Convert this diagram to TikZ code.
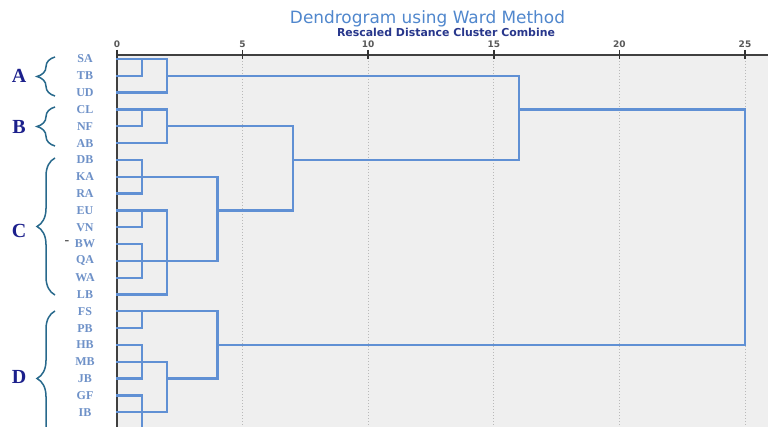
\documentclass[tikz,border=0pt]{standalone}
\usepackage{graphicx}
\usepackage{fontspec}
\setmainfont{Liberation Serif}
\setsansfont{Liberation Sans}
\newfontfamily\dejavu{DejaVu Sans}
\usetikzlibrary{decorations.pathreplacing}
\definecolor{dendro}{RGB}{96,144,212}
\definecolor{plotbg}{RGB}{239,239,239}
\definecolor{leafblue}{RGB}{110,145,200}
\definecolor{titleblue}{RGB}{80,135,205}
\definecolor{subnavy}{RGB}{40,55,140}
\definecolor{grpnavy}{RGB}{28,32,140}
\definecolor{braceteal}{RGB}{40,105,140}
\tikzset{
  dline/.style={draw=dendro, line width=2.3pt, line cap=rect},
  gridline/.style={draw=gray!55, dotted, line width=1pt},
  axisline/.style={draw=black!75, line width=1.2pt},
  tickmark/.style={draw=black!80, line width=1.5pt},
  ticklabel/.style={font=\dejavu\fontsize{9}{10}\selectfont\bfseries, text=black!65, inner sep=0pt},
  leaf/.style={font=\fontsize{12}{13}\selectfont\bfseries, text=leafblue, inner sep=0pt},
  grp/.style={font=\fontsize{20}{22}\selectfont\bfseries, text=grpnavy, inner sep=0pt},
  bracestyle/.style={draw=braceteal, line width=1.5pt, decorate,
    decoration={brace, amplitude=18pt, aspect=0.5}},
}
\begin{document}
\begin{tikzpicture}[x=1pt,y=-1pt]
\useasboundingbox (0,0) rectangle (768,427);
\clip (0,0) rectangle (768,427);
\fill[white] (0,0) rectangle (768,427);
\fill[plotbg] (117,55) rectangle (768,427);
% titles
\node[text=titleblue, inner sep=0pt] (title) at (427.5,19)
  {\resizebox{275pt}{!}{\dejavu Dendrogram using Ward Method}};
\node[text=subnavy, inner sep=0pt] (subtitle) at (446,32)
  {\resizebox{218pt}{!}{\dejavu\bfseries Rescaled Distance Cluster Combine}};
% grid
\foreach \v in {5,10,15,20,25}
  \draw[gridline] ({117+25.12*\v},58) -- ({117+25.12*\v},427);
% axes
\draw[axisline] (117,55) -- (768,55);
\draw[axisline] (117,50) -- (117,427);
\foreach \v in {0,5,10,15,20,25} {
  \draw[tickmark] ({117+25.12*\v},50) -- ({117+25.12*\v},59);
  \node[ticklabel] (t\v) at ({117+25.12*\v},44) {\v};
}
% leaf labels
\foreach \n [count=\i from 0] in {SA,TB,UD,CL,NF,AB,DB,KA,RA,EU,VN,BW,QA,WA,LB,FS,PB,HB,MB,JB,GF,IB}
  \node[leaf] (\n) at (85,{59+16.82*\i}) {\n};
\node[font=\fontsize{14}{14}\selectfont\bfseries, text=black!70, inner sep=0pt] (dash) at (67,243) {-};
% group braces and letters
\draw[bracestyle] (55,96) -- (55,57);
\draw[bracestyle] (55,146) -- (55,107);
\draw[bracestyle] (55,295) -- (55,158);
\draw[bracestyle] (55,446) -- (55,311);
\node[grp] (gA) at (19,76) {A};
\node[grp] (gB) at (19,127) {B};
\node[grp] (gC) at (19,231) {C};
\node[grp] (gD) at (19,377) {D};
% dendrogram
\begin{scope}[shift={(117,59)}, x=25.12pt, y=-16.82pt]
  % A
  \draw[dline] (0,0) -- (2,0) -- (2,2) -- (0,2);
  \draw[dline] (0,1) -- (1,1);
  \draw[dline] (1,0) -- (1,1);
  % B
  \draw[dline] (0,3) -- (2,3) -- (2,5) -- (0,5);
  \draw[dline] (0,4) -- (1,4);
  \draw[dline] (1,3) -- (1,4);
  % C
  \draw[dline] (0,6) -- (1,6) -- (1,8) -- (0,8);
  \draw[dline] (0,7) -- (4,7);
  \draw[dline] (0,9) -- (2,9);
  \draw[dline] (0,10) -- (1,10) -- (1,9);
  \draw[dline] (0,11) -- (1,11) -- (1,13) -- (0,13);
  \draw[dline] (0,12) -- (4,12);
  \draw[dline] (0,14) -- (2,14) -- (2,9);
  \draw[dline] (4,7) -- (4,12);
  \draw[dline] (4,9) -- (7,9);
  % B + C
  \draw[dline] (2,4) -- (7,4) -- (7,9);
  \draw[dline] (7,6) -- (16,6);
  % A + BC
  \draw[dline] (2,1) -- (16,1) -- (16,6);
  \draw[dline] (16,3) -- (25,3);
  % D
  \draw[dline] (0,15) -- (4,15);
  \draw[dline] (0,16) -- (1,16) -- (1,15);
  \draw[dline] (0,17) -- (1,17) -- (1,19) -- (0,19);
  \draw[dline] (0,18) -- (2,18) -- (2,21) -- (0,21);
  \draw[dline] (0,20) -- (1,20) -- (1,23);
  \draw[dline] (0,22) -- (1,22);
  \draw[dline] (2,19) -- (4,19) -- (4,15);
  \draw[dline] (4,17) -- (25,17) -- (25,3);
\end{scope}
\end{tikzpicture}
\end{document}
